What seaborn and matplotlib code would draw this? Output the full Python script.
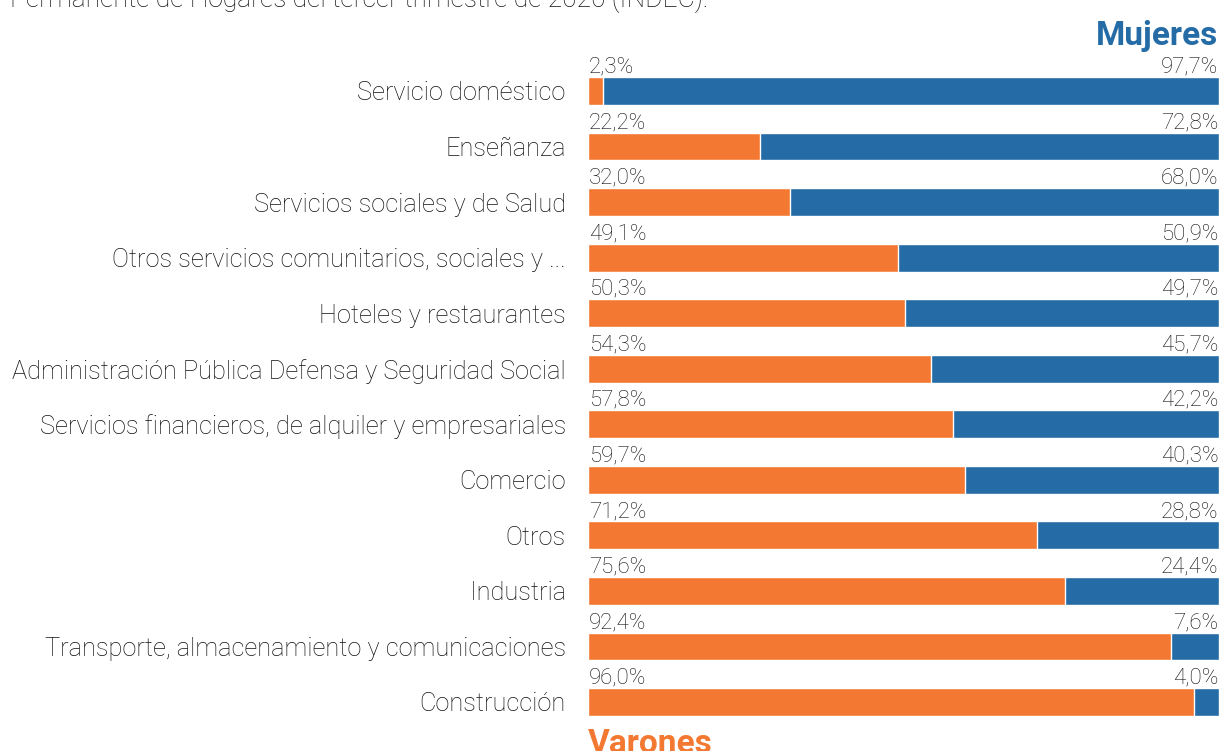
import matplotlib
matplotlib.use("Agg")
import matplotlib.pyplot as plt
import pandas as pd
import seaborn as sns

# Data
categories = ["Servicio doméstico", "Enseñanza", "Servicios sociales y de Salud",
              "Otros servicios comunitarios, sociales y ...", "Hoteles y restaurantes",
              "Administración Pública Defensa y Seguridad Social",
              "Servicios financieros, de alquiler y empresariales", "Comercio", "Otros",
              "Industria", "Transporte, almacenamiento y comunicaciones", "Construcción"]
varones = [2.3, 27.2, 32.0, 49.1, 50.3, 54.3, 57.8, 59.7, 71.2, 75.6, 92.4, 96.0]
mujeres = [97.7, 72.8, 68.0, 50.9, 49.7, 45.7, 42.2, 40.3, 28.8, 24.4, 7.6, 4.0]
varones_labels = ["2,3%", "22,2%", "32,0%", "49,1%", "50,3%", "54,3%", "57,8%",
                  "59,7%", "71,2%", "75,6%", "92,4%", "96,0%"]
mujeres_labels = ["97,7%", "72,8%", "68,0%", "50,9%", "49,7%", "45,7%", "42,2%",
                  "40,3%", "28,8%", "24,4%", "7,6%", "4,0%"]

orange = "#F37932"
blue = "#256CA6"

sns.set_style("white")
plt.rcParams["font.family"] = ["Roboto", "DejaVu Sans"]

df = pd.DataFrame({"categoria": categories, "varones": varones, "mujeres": mujeres})
df["total"] = df["varones"] + df["mujeres"]

fig = plt.figure(figsize=(12.21, 7.51), dpi=100)
ax = fig.add_axes([0.4816, 0.0283, 0.5168, 0.906])

# stacked bars: total in blue, varones on top in orange
sns.barplot(ax=ax, data=df, x="total", y="categoria", color=blue, width=0.5,
            orient="h", saturation=1)
sns.barplot(ax=ax, data=df, x="varones", y="categoria", color=orange, width=0.5,
            orient="h", saturation=1)

ax.set_xlim(0, 100)
ax.set_ylim(11.5, -0.75)
ax.set_xlabel("")
ax.set_ylabel("")
ax.set_xticks([])
sns.despine(ax=ax, left=True, bottom=True)
ax.tick_params(axis="y", length=0, pad=16, labelsize=18.3)
for lab in ax.get_yticklabels():
    lab.set_fontweight("light")
    lab.set_color("#111111")
    lab.set_va("center_baseline")

for i in range(len(categories)):
    ax.text(0.1, i - 0.33, varones_labels[i], ha="left", va="baseline", fontsize=16,
            fontweight="light", color="#111111")
    ax.text(99.9, i - 0.33, mujeres_labels[i], ha="right", va="baseline", fontsize=16,
            fontweight="light", color="#111111")

fig.text(0.998, 0.940, "Mujeres", ha="right", va="baseline", fontsize=24,
         fontweight="bold", color=blue)
fig.text(0.4816, -0.002, "Varones", ha="left", va="baseline", fontsize=24,
         fontweight="bold", color=orange)
fig.text(0.008, 0.9907, "Permanente de Hogares del tercer trimestre de 2020 (INDEC).",
         ha="left", va="baseline", fontsize=19, fontweight="light", color="#111111")

fig.savefig("out.png", dpi=100)
